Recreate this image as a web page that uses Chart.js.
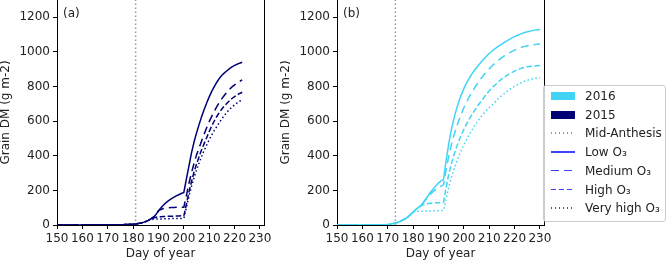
<!DOCTYPE html>
<html>
<head>
<meta charset="utf-8">
<script src="https://cdn.jsdelivr.net/npm/chart.js@4.4.1/dist/chart.umd.min.js"></script>
<style>
	html, body { margin: 0; padding: 0; background: #fff; }
	#figure { position: relative; width: 667px; height: 262px; overflow: hidden; font-family: "DejaVu Sans", sans-serif; }
	#figure canvas { position: absolute; top: 0; }
	#chart2015 { left: 0; }
	#chart2016 { left: 280px; }
	#legend { position: absolute; left: 543px; top: 85px; width: 121px; height: 135px; border: 1px solid #ccc; border-radius: 3px; background: rgba(255, 255, 255, 0.8); }
	.item { position: absolute; left: 0; width: 121px; height: 18px; line-height: 18px; font-size: 12px; color: #222; white-space: nowrap; }
	.item .swatch { position: absolute; left: 7px; width: 24px; }
	.item .label { position: absolute; left: 41px; }
	.patch { top: 5px; height: 8px; }
	.stroke { top: 8px; height: 1.5px; }
</style>
</head>
<body>
<div id="figure">
	<canvas id="chart2015" width="280" height="262"></canvas>
	<canvas id="chart2016" width="280" height="262"></canvas>
	<div id="legend">
		<div class="item" style="top: 1px"><div class="swatch patch" style="background: #42d4f4"></div><span class="label">2016</span></div>
		<div class="item" style="top: 19.7px"><div class="swatch patch" style="background: #000075"></div><span class="label">2015</span></div>
		<div class="item" style="top: 38.4px"><div class="swatch stroke" style="background: repeating-linear-gradient(90deg, #999 0 1.5px, transparent 1.5px 4px)"></div><span class="label">Mid-Anthesis</span></div>
		<div class="item" style="top: 57.1px"><div class="swatch stroke" style="background: #4040ff"></div><span class="label">Low O₃</span></div>
		<div class="item" style="top: 75.8px"><div class="swatch stroke" style="background: repeating-linear-gradient(90deg, #4040ff 0 8px, transparent 8px 13px)"></div><span class="label">Medium O₃</span></div>
		<div class="item" style="top: 94.5px"><div class="swatch stroke" style="background: repeating-linear-gradient(90deg, #4040ff 0 5.5px, transparent 5.5px 8px)"></div><span class="label">High O₃</span></div>
		<div class="item" style="top: 113.2px"><div class="swatch stroke" style="background: repeating-linear-gradient(90deg, #4040ff 0 1.5px, transparent 1.5px 4px)"></div><span class="label">Very high O₃</span></div>
	</div>
</div>
<script>
	// first day of each daily series and the mid-anthesis day per season
	let firstDay2015 = 150;
	let firstDay2016 = 150;
	let anthesis2015 = 181;
	let anthesis2016 = 173;

	let xTicks = [150, 160, 170, 180, 190, 200, 210, 220, 230];
	let yTicks = [0, 200, 400, 600, 800, 1000, 1200];
	let ozoneLevels = ["Low O₃", "Medium O₃", "High O₃", "Very high O₃"];

	// 2015, days 150-223 (g m-2)
	let low2015 = [0,0,0,0,0,0,0,0,0,0,0, 1,1,1,1,1,1,1,1,1,1, 2,2,2,2,2,2, 3,3,4,5,6,8,11,15,20,27,
		35,45,60,82,100,116,129,141,151,160,168,175,182,188,
		265,340,415,478,532,580,625,667,705,740,772,800,825,847,865,879,891,903,913,922,929,935,940];
	let medium2015 = [0,0,0,0,0,0,0,0,0,0,0, 1,1,1,1,1,1,1,1,1,1, 2,2,2,2,2,2, 3,3,4,5,6,8,11,15,20,27,
		35,45,60,82,90,95,98,100,101,101,102,102,103,103,
		170,240,300,355,405,445,485,525,562,597,628,657,684,708,730,750,768,784,798,810,821,830,838];
	let high2015 = [0,0,0,0,0,0,0,0,0,0,0, 1,1,1,1,1,1,1,1,1,1, 2,2,2,2,2,2, 3,3,4,5,6,8,11,15,20,27,
		35,41,45,47,48,49,50,50,51,51,52,52,53,53,
		120,190,250,305,352,395,435,470,505,540,572,601,627,650,670,688,704,718,731,742,752,760,767];
	let veryHigh2015 = [0,0,0,0,0,0,0,0,0,0,0, 1,1,1,1,1,1,1,1,1,1, 2,2,2,2,2,2, 3,3,4,5,6,8,11,15,20,27,
		31,33,34,35,35,36,36,36,37,37,37,38,38,38,
		100,165,222,273,318,358,396,430,462,492,520,546,569,592,614,634,652,668,682,695,706,715,723];

	// 2016, days 150-230 (g m-2)
	let low2016 = [0,0,0,0,0,0,0,0,0,0,0, 1,1,1,1,1,1,1,1, 2,3,5,8,11,16,22,29,37,47,60,75,
		88,100,112,130,150,172,192,210,227,242,255,264,
		370,465,545,610,665,712,752,788,818,845,869,890,909,927,944,960,976,991,1004,1015,1026,1036,1045,1055,1064,1073,1081,1088,1095,1101,1107,1112,1116,1120,1123,1126,1128,1130];
	let medium2016 = [0,0,0,0,0,0,0,0,0,0,0, 1,1,1,1,1,1,1,1, 2,3,5,8,11,16,22,29,37,47,60,75,
		88,100,112,128,146,163,180,194,206,216,225,232,
		320,395,458,512,560,603,642,677,708,737,763,787,810,831,851,869,886,902,917,931,944,956,967,977,986,995,1003,1010,1017,1023,1028,1032,1036,1039,1041,1043,1045,1046];
	let high2016 = [0,0,0,0,0,0,0,0,0,0,0, 1,1,1,1,1,1,1,1, 2,3,5,8,11,16,22,29,37,47,60,75,
		88,100,110,117,121,124,126,127,128,129,130,131,
		215,290,350,400,445,485,520,552,581,608,633,656,678,699,719,738,757,775,790,805,818,832,844,855,865,874,882,889,896,902,907,911,914,916,918,919,920,921];
	let veryHigh2016 = [0,0,0,0,0,0,0,0,0,0,0, 1,1,1,1,1,1,1,1, 2,3,5,8,11,16,22,29,37,47,60,75,
		78,79,80,80,81,81,82,82,83,83,84,84,
		150,215,270,318,360,398,432,463,492,519,544,567,589,610,629,647,664,678,690,706,721,735,748,760,772,783,793,802,810,818,825,831,836,840,844,847,850,852];

	let xMin = 150, xMax = 231.6, yMin = 0, yMax = 1300;
	let dashes = [[], [8, 5], [5.5, 2.5], [1.5, 2.5]];
	let textColor = "#222";
	let font = { family: "'DejaVu Sans'", size: 12 };

	let toPoints = function (firstDay, values) {
		return values.map(function (v, i) {
			return { x: firstDay + i, y: v };
		});
	};

	let plainNumber = function (value) {
		return String(value);
	};

	// right spine and the (a)/(b) tag
	let panelFrame = {
		id: "panelFrame",
		afterDraw: function (chart, args, opts) {
			let ctx = chart.ctx, area = chart.chartArea;
			let x = Math.round(area.right) + 0.5;
			ctx.save();
			ctx.strokeStyle = "#000";
			ctx.lineWidth = 1;
			ctx.beginPath();
			ctx.moveTo(x, area.top);
			ctx.lineTo(x, area.bottom);
			ctx.stroke();
			ctx.fillStyle = textColor;
			ctx.font = "12px 'DejaVu Sans'";
			ctx.fillText(opts.text, area.left + 6, area.top + 16.5);
			ctx.restore();
		}
	};

	let makePanel = function (canvasId, tag, color, firstDay, anthesisDay, series) {
		let datasets = series.map(function (values, i) {
			return {
				label: ozoneLevels[i],
				data: toPoints(firstDay, values),
				borderColor: color,
				borderWidth: 1.5,
				borderDash: dashes[i],
				pointRadius: 0,
				tension: 0,
				fill: false
			};
		});
		datasets.push({
			label: "Mid-Anthesis",
			data: [{ x: anthesisDay, y: yMin }, { x: anthesisDay, y: yMax }],
			borderColor: "#999",
			borderWidth: 1.5,
			borderDash: [1.5, 2.5],
			pointRadius: 0,
			fill: false
		});

		return new Chart(canvasId, {
			type: "line",
			data: { datasets: datasets },
			options: {
				responsive: false,
				animation: false,
				devicePixelRatio: 1,
				layout: { padding: { left: 0, right: 16, top: 0, bottom: 0 } },
				plugins: {
					legend: { display: false },
					tooltip: { enabled: false },
					panelFrame: { text: tag }
				},
				scales: {
					x: {
						type: "linear",
						min: xMin,
						max: xMax,
						afterBuildTicks: function (scale) {
							scale.ticks = xTicks.map(function (v) { return { value: v }; });
						},
						afterFit: function (scale) {
							scale.height = 37;
						},
						grid: { drawOnChartArea: false, drawTicks: true, tickLength: 4, color: "#000" },
						border: { display: true, color: "#000", width: 1 },
						ticks: { color: textColor, font: font, padding: 3, maxRotation: 0, autoSkip: false, callback: plainNumber },
						title: { display: true, text: "Day of year", color: textColor, font: font, padding: { top: 0, bottom: 1.3 } }
					},
					y: {
						type: "linear",
						min: yMin,
						max: yMax,
						afterBuildTicks: function (scale) {
							scale.ticks = yTicks.map(function (v) { return { value: v }; });
						},
						afterFit: function (scale) {
							scale.width = 57;
							scale.paddingTop = 0;
							scale.paddingBottom = 0;
						},
						grid: { drawOnChartArea: false, drawTicks: true, tickLength: 4, color: "#000" },
						border: { display: true, color: "#000", width: 1 },
						ticks: { color: textColor, font: font, padding: 3, callback: plainNumber },
						title: { display: true, text: "Grain DM (g m-2)", color: textColor, font: { family: "'DejaVu Sans'", size: 12, lineHeight: 1 }, padding: 0 }
					}
				}
			},
			plugins: [panelFrame]
		});
	};

	makePanel("chart2015", "(a)", "#000075", firstDay2015, anthesis2015, [low2015, medium2015, high2015, veryHigh2015]);
	makePanel("chart2016", "(b)", "#42d4f4", firstDay2016, anthesis2016, [low2016, medium2016, high2016, veryHigh2016]);
</script>
</body>
</html>
